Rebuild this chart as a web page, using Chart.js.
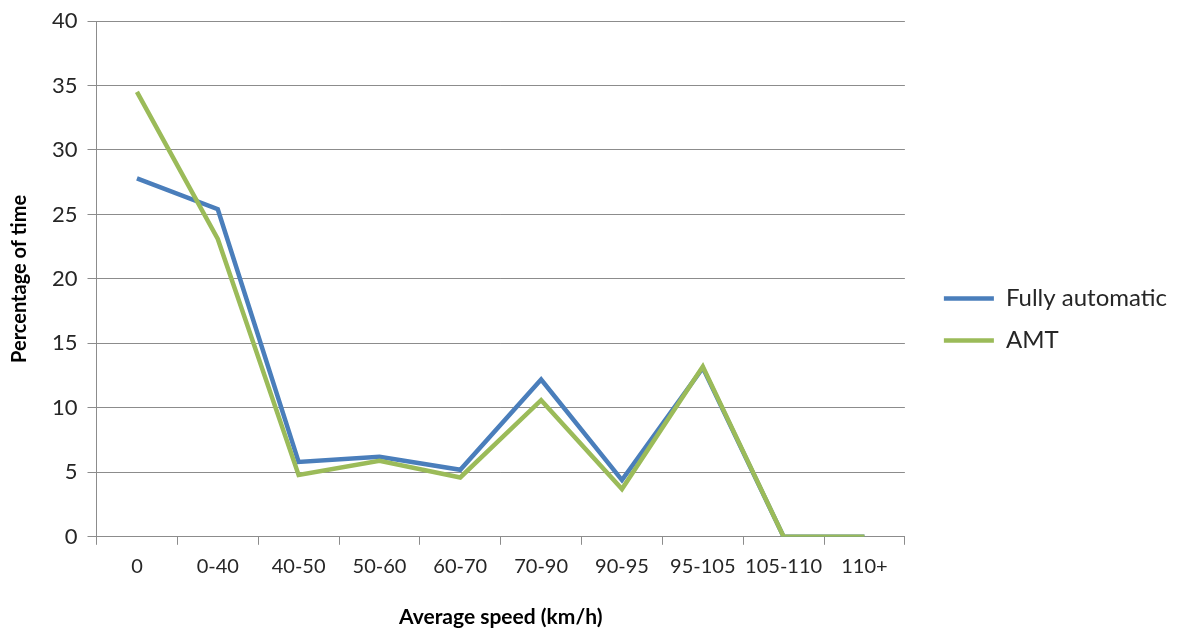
<!DOCTYPE html>
<html>
<head>
<meta charset="utf-8">
<script src="https://cdn.jsdelivr.net/npm/chart.js@4"></script>
<style>
  html, body { margin: 0; padding: 0; background: #fff; }
  #wrap { width: 1182px; height: 633px; }
</style>
</head>
<body>
<div id="wrap"><canvas id="speed-chart"></canvas></div>
<script>
const speedBands = ["0", "0-40", "40-50", "50-60", "60-70", "70-90", "90-95", "95-105", "105-110", "110+"];
const fullyAutomatic = [27.8, 25.4, 5.8, 6.2, 5.2, 12.2, 4.4, 13.1, 0, 0];
const amt = [34.5, 23.1, 4.8, 5.9, 4.6, 10.6, 3.7, 13.2, 0, 0];
const yTicks = [0, 5, 10, 15, 20, 25, 30, 35, 40];

const fontFamily = "Lato, 'Open Sans', sans-serif";
const gridGray = "#8c8c8c";
const legendShift = 21;

let speedChart;

// nudge the legend a bit away from the plot without changing item spacing
const legendNudge = {
    id: "legendNudge",
    afterLayout(chart) {
        if (chart.legend) {
            chart.legend.left += legendShift;
            chart.legend.right += legendShift;
        }
    }
};

function initSpeedChart() {
    const ctx = document.getElementById("speed-chart").getContext("2d");

    speedChart = new Chart(ctx, {
        type: "line",
        data: {
            labels: speedBands,
            datasets: [{
                label: "Fully automatic",
                data: fullyAutomatic,
                borderColor: "#4a7ebb",
                backgroundColor: "#4a7ebb",
                borderWidth: 4.5,
                pointRadius: 0,
                tension: 0,
                order: 1,
            }, {
                label: "AMT",
                data: amt,
                borderColor: "#9bbb59",
                backgroundColor: "#9bbb59",
                borderWidth: 4.5,
                pointRadius: 0,
                tension: 0,
                order: 0,  // green sits on top, like the original
            }]
        },
        plugins: [legendNudge],
        options: {
            maintainAspectRatio: false,
            responsive: true,
            animation: false,
            layout: {
                padding: { top: 9, right: 26, left: 8, bottom: 3 }
            },
            plugins: {
                legend: {
                    position: "right",
                    align: "center",
                    labels: {
                        usePointStyle: true,
                        pointStyle: "line",
                        pointStyleWidth: 50,
                        color: "#262626",
                        padding: 18,
                        sort: (a, b) => a.datasetIndex - b.datasetIndex,
                        font: { family: fontFamily, size: 24 }
                    }
                },
                tooltip: { enabled: false }
            },
            scales: {
                x: {
                    offset: true,
                    grid: {
                        offset: true,
                        drawOnChartArea: false,
                        drawTicks: true,
                        tickLength: 8,
                        color: gridGray,
                    },
                    border: { color: gridGray, width: 1 },
                    ticks: {
                        color: "#262626",
                        padding: 10,
                        maxRotation: 0,
                        autoSkip: false,
                        font: { family: fontFamily, size: 20 }
                    },
                    title: {
                        display: true,
                        text: "Average speed (km/h)",
                        color: "#000",
                        padding: { top: 16, bottom: 0 },
                        font: { family: fontFamily, size: 21, weight: "bold" }
                    }
                },
                y: {
                    min: 0,
                    max: 40,
                    afterBuildTicks: axis => { axis.ticks = yTicks.map(v => ({ value: v })); },
                    grid: {
                        color: gridGray,
                        lineWidth: 1,
                        tickLength: 9,
                    },
                    border: { color: gridGray, width: 1 },
                    ticks: {
                        color: "#262626",
                        padding: 10,
                        font: { family: fontFamily, size: 22, lineHeight: 1 }
                    },
                    title: {
                        display: true,
                        text: "Percentage of time",
                        color: "#000",
                        padding: { top: 0, bottom: 10 },
                        font: { family: fontFamily, size: 20, weight: "bold" }
                    }
                }
            }
        }
    });
}

initSpeedChart();
</script>
</body>
</html>
